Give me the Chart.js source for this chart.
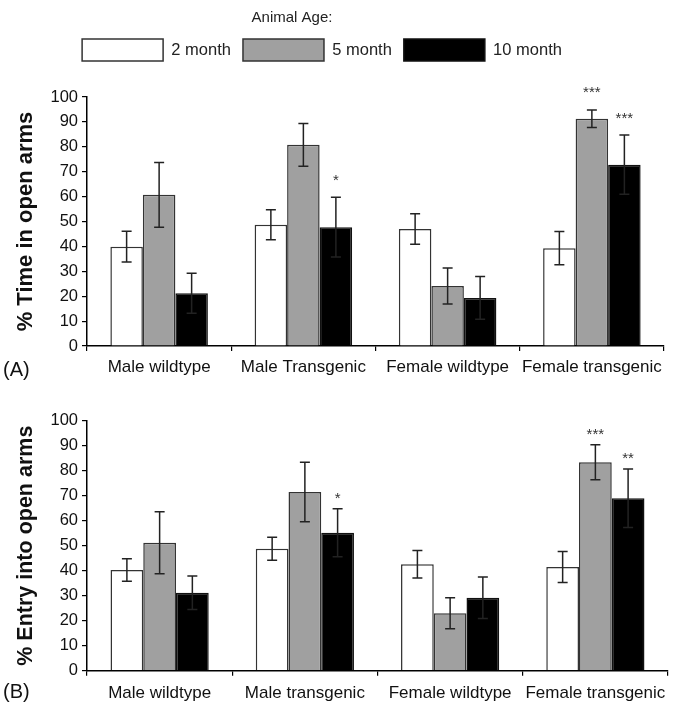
<!DOCTYPE html>
<html><head><meta charset="utf-8">
<script src="https://cdn.jsdelivr.net/npm/chart.js@4.4.1/dist/chart.umd.min.js"></script>
<style>
html,body{margin:0;padding:0;background:#fff;}
#wrap{position:relative;width:675px;height:705px;overflow:hidden;}
#cA{position:absolute;left:0;top:0;}
#cB{position:absolute;left:0;top:390px;}
</style></head><body>
<div id="wrap"><canvas id="cA" width="675" height="390"></canvas><canvas id="cB" width="675" height="315"></canvas></div>
<script>
// ---------- data ----------
const seriesLabels = ['2 month', '5 month', '10 month'];
const categoriesA = ['Male wildtype', 'Male Transgenic', 'Female wildtype', 'Female transgenic'];
const categoriesB = ['Male wildtype', 'Male transgenic', 'Female wildtype', 'Female transgenic'];
const yTickValues = [0, 10, 20, 30, 40, 50, 60, 70, 80, 90, 100];

// Panel A: % Time in open arms
const timeOpen2m = [39.9, 48.7, 47.0, 39.3];
const timeOpen5m = [60.7, 80.8, 24.1, 91.3];
const timeOpen10m = [21.2, 47.7, 19.3, 72.8];
const timeOpen2mErr = [6.2, 6.0, 6.1, 6.7];
const timeOpen5mErr = [13.0, 8.6, 7.2, 3.5];
const timeOpen10mErr = [8.0, 12.0, 8.6, 11.9];
const timeOpen2mSig = ['', '', '', ''];
const timeOpen5mSig = ['', '', '', '***'];
const timeOpen10mSig = ['', '*', '', '***'];

// Panel B: % Entry into open arms
const entryOpen2m = [40.3, 48.8, 42.6, 41.5];
const entryOpen5m = [51.2, 71.5, 23.0, 83.4];
const entryOpen10m = [31.2, 55.2, 29.2, 69.0];
const entryOpen2mErr = [4.5, 4.6, 5.5, 6.2];
const entryOpen5mErr = [12.4, 11.9, 6.2, 7.0];
const entryOpen10mErr = [6.7, 9.6, 8.3, 11.7];
const entryOpen2mSig = ['', '', '', ''];
const entryOpen5mSig = ['', '', '', '***'];
const entryOpen10mSig = ['', '*', '', '**'];

// ---------- styling ----------
const FONT = "'Liberation Sans', Arial, sans-serif";
const fills = ['#ffffff', '#a0a0a0', '#000000'];
const borders = ['#333333', '#333333', '#111111'];

function makeDatasets(vals, errs, sigs) {
  return vals.map((v, i) => ({
    label: seriesLabels[i],
    data: v,
    errors: errs[i],
    stars: sigs[i],
    backgroundColor: fills[i],
    borderColor: borders[i],
    borderWidth: 1.5,
    categoryPercentage: 0.676,
    barPercentage: 1.0
  }));
}

const errStars = {
  id: 'errStars',
  afterDatasetsDraw(chart, args, opts) {
    const ctx = chart.ctx;
    const ys = chart.scales.y;
    chart.data.datasets.forEach((ds, i) => {
      const meta = chart.getDatasetMeta(i);
      meta.data.forEach((bar, j) => {
        const v = ds.data[j], e = ds.errors[j];
        const yT = ys.getPixelForValue(v + e), yB = ys.getPixelForValue(v - e);
        ctx.save();
        ctx.strokeStyle = opts.color;
        ctx.lineWidth = opts.lineWidth;
        ctx.beginPath();
        ctx.moveTo(bar.x, yT); ctx.lineTo(bar.x, yB);
        ctx.moveTo(bar.x - opts.cap, yT); ctx.lineTo(bar.x + opts.cap, yT);
        ctx.moveTo(bar.x - opts.cap, yB); ctx.lineTo(bar.x + opts.cap, yB);
        ctx.stroke();
        const s = ds.stars && ds.stars[j];
        if (s) {
          ctx.fillStyle = opts.starColor;
          ctx.font = opts.starFont;
          ctx.textAlign = 'center';
          ctx.textBaseline = 'alphabetic';
          ctx.fillText(s, bar.x, yT - opts.starGap);
        }
        ctx.restore();
      });
    });
  }
};

const panelLabel = {
  id: 'panelLabel',
  afterDraw(chart, args, opts) {
    if (!opts.text) return;
    const ctx = chart.ctx;
    ctx.save();
    ctx.font = opts.font;
    ctx.fillStyle = '#111';
    ctx.textAlign = 'left';
    ctx.textBaseline = 'middle';
    ctx.fillText(opts.text, opts.x, opts.y);
    ctx.restore();
  }
};

const shiftTop = {
  id: 'shiftTop',
  afterLayout(chart, args, opts) {
    const t = chart.titleBlock;
    if (t && t.options && t.options.display) {
      t.left += opts.titleDx; t.right += opts.titleDx;
      t.top += opts.dy; t.bottom += opts.dy;
    }
    const l = chart.legend;
    if (l && l.options && l.options.display) {
      l.left += opts.legendDx; l.right += opts.legendDx;
      l.top += opts.dy; l.bottom += opts.dy;
    }
  }
};

function makeOptions(cfg) {
  return {
    responsive: false,
    animation: false,
    layout: { padding: { left: 0, right: cfg.padRight, top: 0, bottom: 0 } },
    plugins: {
      tooltip: { enabled: false },
      title: cfg.legend ? {
        display: true, text: 'Animal Age:', color: '#222',
        font: { family: FONT, size: 15, weight: 'normal' },
        padding: { top: 8, bottom: 0 }
      } : { display: false },
      legend: cfg.legend ? {
        display: true, position: 'top', align: 'center',
        labels: { boxWidth: 81, boxHeight: 22, padding: 12, color: '#222', font: { family: FONT, size: 16.5 } }
      } : { display: false },
      shiftTop: { titleDx: cfg.titleDx || 0, legendDx: cfg.legendDx || 0, dy: cfg.dy || 0 },
      errStars: { color: '#222', lineWidth: 1.5, cap: 5, starColor: '#333', starFont: '15px ' + FONT, starGap: cfg.starGap },
      panelLabel: { text: cfg.panel, x: 3, y: cfg.panelY, font: '20px ' + FONT }
    },
    scales: {
      x: {
        grid: { display: true, drawOnChartArea: false, drawTicks: true, tickLength: 5, color: '#000', lineWidth: 1.2, offset: true },
        border: { display: true, color: '#000', width: 1.5 },
        ticks: { color: '#111', font: { family: FONT, size: 17 }, padding: cfg.xPad, autoSkip: false, maxRotation: 0 },
        afterFit: s => { s.height = cfg.xHeight; }
      },
      y: {
        min: 0, max: 100,
        grid: { display: true, drawOnChartArea: false, drawTicks: true, tickLength: 5, color: '#000', lineWidth: 1.2 },
        border: { display: true, color: '#000', width: 1.5 },
        ticks: { color: '#111', font: { family: FONT, size: 16.5 }, padding: 4 },
        afterBuildTicks: s => { s.ticks = yTickValues.map(v => ({ value: v })); },
        title: { display: true, text: cfg.yTitle, color: '#111', font: { family: FONT, size: cfg.yTitleSize, weight: 'bold' }, padding: { top: 13, bottom: 0 } },
        afterFit: s => { s.width = 87; s.paddingTop = cfg.top; }
      }
    }
  };
}

new Chart(document.getElementById('cA'), {
  type: 'bar',
  data: {
    labels: categoriesA,
    datasets: makeDatasets([timeOpen2m, timeOpen5m, timeOpen10m],
      [timeOpen2mErr, timeOpen5mErr, timeOpen10mErr],
      [timeOpen2mSig, timeOpen5mSig, timeOpen10mSig])
  },
  options: makeOptions({ legend: true, padRight: 11, titleDx: -40, legendDx: -10, dy: -26, top: 97, xHeight: 44, xPad: 6,
    yTitle: '% Time in open arms', yTitleSize: 22, panel: '(A)', panelY: 370, starGap: 12.5 }),
  plugins: [errStars, panelLabel, shiftTop]
});

new Chart(document.getElementById('cB'), {
  type: 'bar',
  data: {
    labels: categoriesB,
    datasets: makeDatasets([entryOpen2m, entryOpen5m, entryOpen10m],
      [entryOpen2mErr, entryOpen5mErr, entryOpen10mErr],
      [entryOpen2mSig, entryOpen5mSig, entryOpen10mSig])
  },
  options: makeOptions({ legend: false, padRight: 7, top: 30.7, xHeight: 34.3, xPad: 7,
    yTitle: '% Entry into open arms', yTitleSize: 21.5, panel: '(B)', panelY: 302.5, starGap: 6 }),
  plugins: [errStars, panelLabel, shiftTop]
});
</script>
</body></html>
